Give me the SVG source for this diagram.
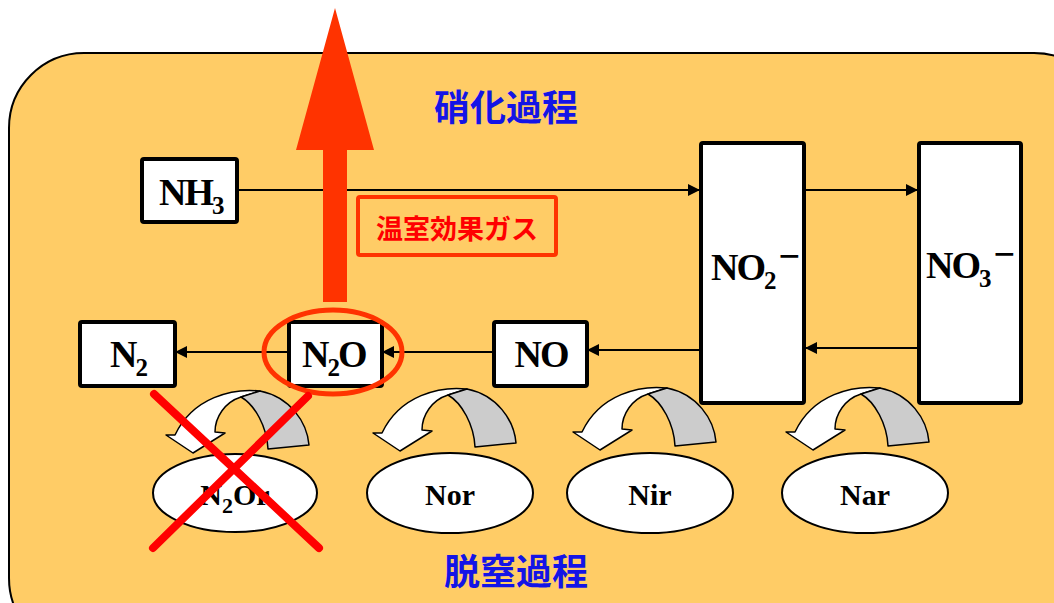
<svg xmlns="http://www.w3.org/2000/svg" width="1054" height="603" viewBox="0 0 1054 603">
<style>
.box{fill:#fff;stroke:#000;stroke-width:4}
.chem{font-family:"Liberation Serif",serif;font-weight:bold;font-size:38px;fill:#000;letter-spacing:-2px}
.enz{font-family:"Liberation Serif",serif;font-weight:bold;font-size:30px;fill:#000;text-anchor:middle}
.ell{fill:#fff;stroke:#000;stroke-width:2}
.conn{stroke:#000;stroke-width:2;fill:none;marker-end:url(#ah)}
.proc{font-family:"Noto Sans CJK JP",sans-serif;font-weight:bold;font-size:36px;fill:#1414E6;text-anchor:middle}
</style>
<defs>
<marker id="ah" markerUnits="userSpaceOnUse" markerWidth="12" markerHeight="12" viewBox="0 0 12 12" refX="12" refY="6" orient="auto">
<path d="M0,0 L12,6 L0,12 Z" fill="#000"/>
</marker>
<g id="curl">
<path d="M -18,-18 L -27,-18 L 0,0 L 32,-20 L 22,-21 C 22,-36 32,-51 48,-56 L 67,-62 C 40,-65 0,-56 -18,-18 Z" fill="#fff" stroke="#000" stroke-width="1.5" stroke-linejoin="round"/>
<path d="M 48,-56 C 62,-48 74,-26 75,-4 L 116,-8 C 114,-31 97,-56 67,-62 Z" fill="#CCCCCC" stroke="#000" stroke-width="1.5" stroke-linejoin="round"/>
</g>
</defs>
<rect x="9" y="53" width="1100" height="600" rx="75" fill="#FFCC66" stroke="#000" stroke-width="2"/>
<text class="proc" x="506" y="121">硝化過程</text>
<text class="proc" x="516" y="585">脱窒過程</text>
<g id="connectors">
<line class="conn" x1="238" y1="190" x2="700" y2="190"/>
<line class="conn" x1="805" y1="190" x2="918" y2="190"/>
<line class="conn" x1="918" y1="348" x2="805" y2="348"/>
<line class="conn" x1="700" y1="350" x2="587" y2="350"/>
<line class="conn" x1="493" y1="352" x2="382" y2="352"/>
<line class="conn" x1="288" y1="352" x2="175" y2="352"/>
</g>
<g id="nh3">
<rect class="box" x="142" y="159" width="95" height="63" rx="2"/>
<text class="chem" x="159" y="205">NH<tspan font-size="25" dy="9">3</tspan></text>
</g>
<g id="no2">
<rect class="box" x="701" y="143" width="103" height="260" rx="2"/>
<text class="chem" x="711" y="280">NO<tspan font-size="25" dy="9">2</tspan><tspan dy="-20" dx="4">−</tspan></text>
</g>
<g id="no3">
<rect class="box" x="919" y="143" width="102" height="260" rx="2"/>
<text class="chem" x="926" y="278">NO<tspan font-size="25" dy="9">3</tspan><tspan dy="-20" dx="4">−</tspan></text>
</g>
<g id="n2">
<rect class="box" x="80" y="322" width="95" height="64" rx="2"/>
<text class="chem" x="110" y="367">N<tspan font-size="25" dy="9">2</tspan></text>
</g>
<g id="n2o">
<rect class="box" x="289" y="322" width="93" height="64" rx="2"/>
<text class="chem" x="302" y="367">N<tspan font-size="25" dy="9">2</tspan><tspan dy="-9">O</tspan></text>
</g>
<g id="no">
<rect class="box" x="494" y="322" width="93" height="64" rx="2"/>
<text class="chem" x="541" y="367" text-anchor="middle">NO</text>
</g>
<g id="n2or">
<use href="#curl" transform="translate(193,453)"/>
<ellipse class="ell" cx="235" cy="493" rx="82" ry="39"/>
<text class="enz" x="235" y="505">N<tspan font-size="22" dy="8">2</tspan><tspan dy="-8">Or</tspan></text>
</g>
<g id="nor">
<use href="#curl" transform="translate(400,451)"/>
<ellipse class="ell" cx="450" cy="493" rx="83" ry="40"/>
<text class="enz" x="450" y="505">Nor</text>
</g>
<g id="nir">
<use href="#curl" transform="translate(600,450)"/>
<ellipse class="ell" cx="650" cy="493" rx="83" ry="40"/>
<text class="enz" x="650" y="505">Nir</text>
</g>
<g id="nar">
<use href="#curl" transform="translate(813,450)"/>
<ellipse class="ell" cx="865" cy="493" rx="83" ry="40"/>
<text class="enz" x="865" y="505">Nar</text>
</g>
<g id="ghg">
<rect x="358" y="197" width="198" height="58" rx="2" fill="none" stroke="#FF3300" stroke-width="4"/>
<text x="457" y="239" text-anchor="middle" font-family="Noto Sans CJK JP, sans-serif" font-weight="bold" font-size="27" fill="#FF0000">温室効果ガス</text>
</g>
<g id="red-arrow">
<polygon points="335,8 374,150 347,150 347,302 323,302 323,150 296,150" fill="#FF3300"/>
</g>
<ellipse id="n2o-ring" cx="333" cy="352" rx="69" ry="42" fill="none" stroke="#FF3300" stroke-width="5"/>
<g id="cross" stroke="#FF0000" stroke-width="8" stroke-linecap="round">
<line x1="154" y1="394" x2="319" y2="548"/>
<line x1="153" y1="548" x2="308" y2="396"/>
</g>
</svg>
